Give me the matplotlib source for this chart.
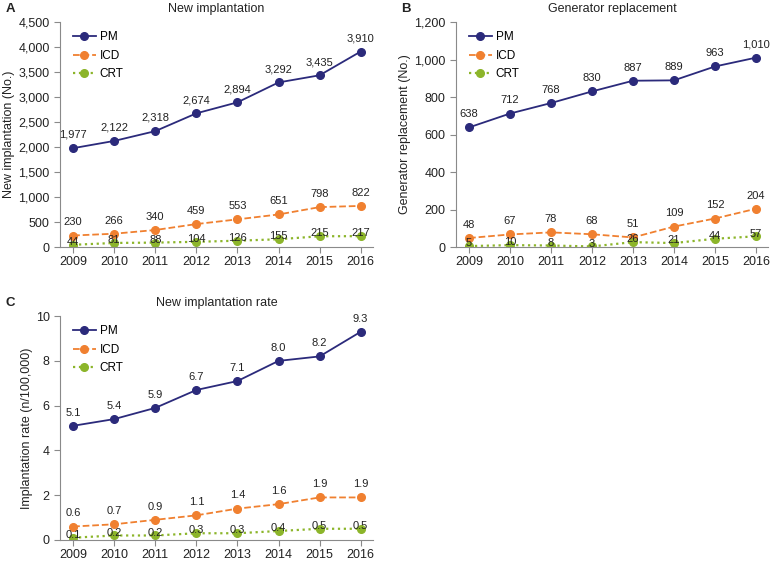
import numpy as np
import matplotlib.pyplot as plt

years = [2009, 2010, 2011, 2012, 2013, 2014, 2015, 2016]

# A: new implantation (No.)
pm_new = [1977, 2122, 2318, 2674, 2894, 3292, 3435, 3910]
icd_new = [230, 266, 340, 459, 553, 651, 798, 822]
crt_new = [44, 81, 88, 104, 126, 155, 215, 217]

# B: generator replacement (No.)
pm_rep = [638, 712, 768, 830, 887, 889, 963, 1010]
icd_rep = [48, 67, 78, 68, 51, 109, 152, 204]
crt_rep = [5, 10, 8, 3, 26, 21, 44, 57]

# C: new implantation rate (n/100,000)
pm_rate = [5.1, 5.4, 5.9, 6.7, 7.1, 8.0, 8.2, 9.3]
icd_rate = [0.6, 0.7, 0.9, 1.1, 1.4, 1.6, 1.9, 1.9]
crt_rate = [0.1, 0.2, 0.2, 0.3, 0.3, 0.4, 0.5, 0.5]

plt.rcParams['font.family'] = ['Liberation Sans', 'DejaVu Sans']

PM_C = '#2b2a7b'
ICD_C = '#f08030'
CRT_C = '#8cb52a'
GRAY = '#8a8a8a'
TXT = '#222222'

fig = plt.figure(figsize=(7.71, 5.61), dpi=100)


def fmt_int(v):
    return f"{v:,}"


def fmt_dec(v):
    return f"{v:.1f}"


def panel(rect, pm, icd, crt, ymax, ystep, ylabel, title, letter, fmt, tickfmt):
    ax = fig.add_axes(rect)
    ax.plot(years, pm, '-', color=PM_C, marker='o', ms=5.5, lw=1.3, label='PM')
    ax.plot(years, icd, '--', color=ICD_C, marker='o', ms=5.5, lw=1.3, label='ICD')
    ax.plot(years, crt, ':', color=CRT_C, marker='o', ms=5.5, lw=1.6, label='CRT')
    for series, off in zip((pm, icd, crt), (9.5, 9.5, 2)):
        for x, v in zip(years, series):
            ax.annotate(fmt(v), (x, v), xytext=(0, off), textcoords='offset points',
                        ha='center', va='center', fontsize=8, color=TXT)
    ax.set_xlim(2008.68, 2016.3)
    ax.set_ylim(0, ymax)
    ax.set_xticks(years)
    ticks = np.arange(0, ymax + ystep / 2, ystep)
    ax.set_yticks(ticks)
    ax.set_yticklabels([tickfmt(t) for t in ticks])
    for s in ('top', 'right'):
        ax.spines[s].set_visible(False)
    for s in ('left', 'bottom'):
        ax.spines[s].set_color(GRAY)
    ax.tick_params(colors=GRAY, labelcolor=TXT, labelsize=9, length=4)
    ax.tick_params(axis='x', pad=2.5)
    ax.set_ylabel(ylabel, fontsize=9, color=TXT, labelpad=2)
    ax.legend(loc='upper left', frameon=False, fontsize=8.5, handlelength=1.9,
              handletextpad=0.35, borderaxespad=0, labelspacing=0.55,
              bbox_to_anchor=(0.027, 0.98))
    ax.set_title(title, fontsize=9, color=TXT, pad=7)
    fig.text(rect[0] - 0.071, rect[1] + rect[3] + 0.012, letter, fontsize=9.5,
             fontweight='bold', va='bottom', color=TXT)
    return ax


panel([0.0778, 0.5597, 0.406, 0.401], pm_new, icd_new, crt_new, 4500, 500,
      'New implantation (No.)', 'New implantation', 'A', fmt_int,
      lambda t: fmt_int(int(t)))
panel([0.5914, 0.5597, 0.405, 0.401], pm_rep, icd_rep, crt_rep, 1200, 200,
      'Generator replacement (No.)', 'Generator replacement', 'B', fmt_int,
      lambda t: fmt_int(int(t)))
panel([0.0778, 0.0375, 0.406, 0.399], pm_rate, icd_rate, crt_rate, 10, 2,
      'Implantation rate (n/100,000)', 'New implantation rate', 'C', fmt_dec,
      lambda t: f"{int(t)}")

fig.savefig('out.png', dpi=100)
